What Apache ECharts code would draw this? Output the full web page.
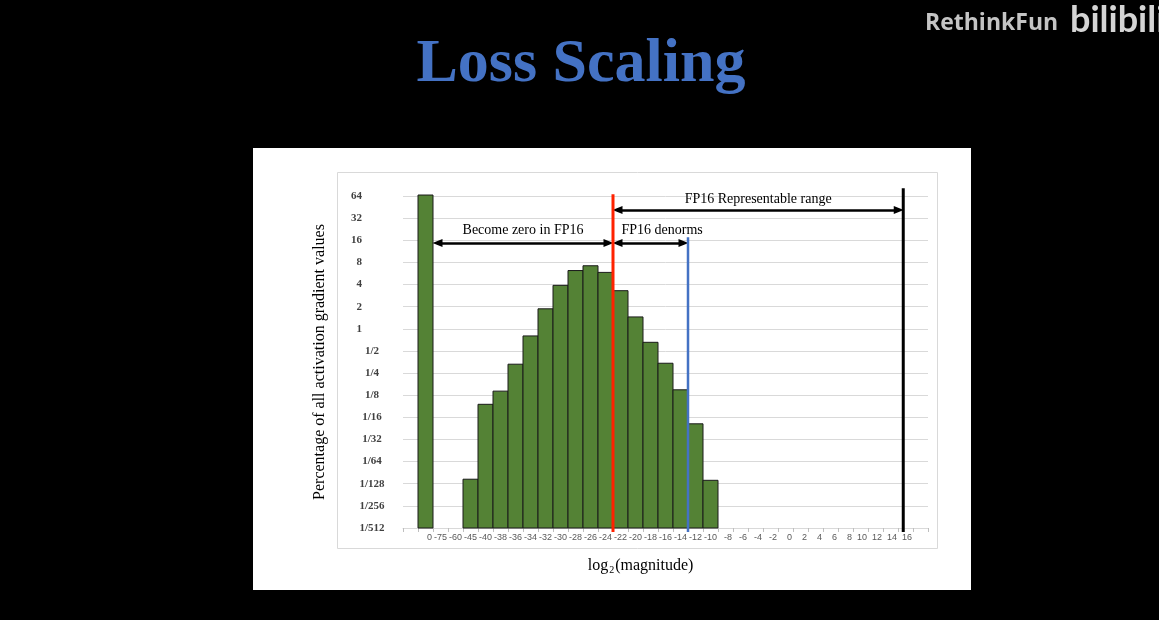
<!DOCTYPE html>
<html>
<head>
<meta charset="utf-8">
<title>Loss Scaling</title>
<script src="https://cdn.jsdelivr.net/npm/echarts@6/dist/echarts.min.js"></script>
<style>
  html, body { margin: 0; padding: 0; background: #000; }
  #chart { width: 1159px; height: 620px; }
</style>
</head>
<body>
<div id="chart"></div>
<script>
// x categories (log2 magnitude bins), empty slot at both ends of the axis
var categories = ['', '0', '-75', '-60', '-45', '-40', '-38', '-36', '-34', '-32', '-30',
  '-28', '-26', '-24', '-22', '-20', '-18', '-16', '-14', '-12', '-10', '-8', '-6', '-4',
  '-2', '0', '2', '4', '6', '8', '10', '12', '14', '16', ''];

// percentage of all activation gradient values per bin
var percentages = [null, 66, null, null, 0.009, 0.094, 0.142, 0.33, 0.80, 1.87, 3.9,
  6.2, 7.2, 5.85, 3.3, 1.45, 0.655, 0.34, 0.148, 0.051, 0.0087, null, null, null,
  null, null, null, null, null, null, null, null, null, null, null];

// y ticks: powers of two from 1/512 to 64
var yMin = 1 / 512;
var yMax = 64;

// vertical markers, in category-index units (boundary after a bin = index + 0.5)
var fp16Min = categories.indexOf('-24') + 0.5;     // smallest normal
var fp16Denorm = categories.indexOf('-14') + 0.5;  // end of denorms
var fp16Max = 32.85;                               // largest representable
var zeroBinEnd = 1.5;
var lineBottom = 0.00172;
var lineTops = [67.6, 17.6, 81.6];
var arrowLevels = [41.4, 14.7];
var tipInset = 0.3; // arrow heads are centred on their end point

var serif = "'Liberation Serif', 'DejaVu Serif', serif";

var chart = echarts.init(document.getElementById('chart'));

var barData = [];
percentages.forEach(function (v, i) {
  if (v != null) {
    barData.push([i, v]);
  }
});

function vLine(x, top, color, width) {
  return {
    type: 'line',
    xAxisIndex: 1,
    data: [[x, lineBottom], [x, top]],
    symbol: 'none',
    clip: false,
    silent: true,
    z: 5,
    lineStyle: { color: color, width: width }
  };
}

var arrowLabel = {
  show: true,
  color: '#000',
  fontFamily: serif,
  fontSize: 14
};

var series = [{
  // histogram bars drawn from the bottom of the log axis
  type: 'custom',
  data: barData,
  encode: { x: 0, y: 1 },
  silent: true,
  renderItem: function (params, api) {
    var idx = api.value(0);
    var top = api.coord([idx, api.value(1)]);
    var base = api.coord([idx, yMin]);
    var w = api.size([1, 1])[0];
    return {
      type: 'rect',
      shape: { x: top[0] - w / 2, y: top[1], width: w, height: base[1] - top[1] },
      style: { fill: '#548235', stroke: '#1a1a1a', lineWidth: 1 }
    };
  }
},
vLine(fp16Min, lineTops[0], '#ff2200', 3),
vLine(fp16Denorm, lineTops[1], '#4472c4', 2.5),
vLine(fp16Max, lineTops[2], '#000', 3)];

// arrows with their captions
series[3].markLine = {
  silent: true,
  symbol: ['triangle', 'triangle'],
  symbolSize: [8, 10],
  lineStyle: { color: '#000', width: 2.5, type: 'solid' },
  data: [
    [{ coord: [fp16Min + tipInset, arrowLevels[0]],
       label: Object.assign({ formatter: 'FP16 Representable range', position: 'insideMiddleTop', distance: 4 }, arrowLabel) },
     { coord: [fp16Max - tipInset, arrowLevels[0]] }],
    [{ coord: [zeroBinEnd + tipInset, arrowLevels[1]],
       label: Object.assign({ formatter: 'Become zero in FP16', position: 'insideMiddleTop', distance: 6 }, arrowLabel) },
     { coord: [fp16Min - tipInset, arrowLevels[1]] }],
    [{ coord: [fp16Min + tipInset, arrowLevels[1]],
       label: Object.assign({ formatter: 'FP16 denorms', position: 'insideStartTop', distance: [4, 6] }, arrowLabel) },
     { coord: [fp16Denorm - tipInset, arrowLevels[1]] }]
  ]
};

chart.setOption({
  backgroundColor: '#000',
  animation: false,
  graphic: [
    // white slide panel and the plot area border
    { type: 'rect', z: -10, silent: true, shape: { x: 253, y: 148, width: 718, height: 442 },
      style: { fill: '#fff' } },
    { type: 'rect', z: -9, silent: true, shape: { x: 337.5, y: 172.5, width: 600, height: 376 },
      style: { fill: 'none', stroke: '#d9d9d9', lineWidth: 1 } },
    { type: 'text', x: 581, y: 65, silent: true,
      style: { text: 'Loss Scaling', fill: '#4472c4', font: 'bold 62px ' + serif,
        textAlign: 'center', textVerticalAlign: 'middle',
        shadowColor: 'rgba(20,45,90,0.9)', shadowOffsetX: 2, shadowOffsetY: 2, shadowBlur: 2 } },
    // watermark
    { type: 'text', x: 925, y: 23, silent: true,
      style: { text: 'RethinkFun', fill: '#c4c4c4', font: 'bold 23px "Open Sans", sans-serif',
        textVerticalAlign: 'middle' } },
    { type: 'text', x: 1070, y: 20, silent: true,
      style: { text: 'bilibili', fill: '#d4d4d4', font: 'bold 36px Lato, sans-serif',
        textVerticalAlign: 'middle' } }
  ],
  grid: { left: 403, top: 196, width: 525, height: 332 },
  xAxis: [{
    type: 'category',
    data: categories,
    name: 'log{sub|2}(magnitude)',
    nameLocation: 'middle',
    nameGap: 29,
    nameTextStyle: {
      color: '#000', fontFamily: serif, fontSize: 16, padding: [0, 50, 0, 0],
      rich: { sub: { color: '#000', fontFamily: serif, fontSize: 10, padding: [8, 1, 0, 1] } }
    },
    axisLine: { lineStyle: { color: '#d9d9d9' } },
    axisTick: { show: true, interval: 0, length: 4, lineStyle: { color: '#bfbfbf' } },
    axisLabel: {
      interval: 0,
      margin: 5,
      formatter: function (v) { return v ? '{r|' + v + '}' : ''; },
      rich: {
        r: { width: 13, align: 'right', color: '#595959', fontSize: 9,
          fontFamily: "'Liberation Sans Narrow', 'Liberation Sans', sans-serif" }
      }
    },
    splitLine: { show: false }
  }, {
    type: 'value',
    min: -0.5,
    max: categories.length - 0.5,
    show: false
  }],
  yAxis: {
    type: 'log',
    logBase: 2,
    min: yMin,
    max: yMax,
    interval: 1,
    name: 'Percentage of all activation gradient values',
    nameLocation: 'middle',
    nameGap: 75,
    nameTextStyle: { color: '#000', fontFamily: serif, fontSize: 16 },
    axisLine: { show: false },
    axisTick: { show: false },
    splitLine: { lineStyle: { color: '#d9d9d9' } },
    axisLabel: {
      margin: 17,
      formatter: function (v) {
        if (v >= 1) {
          return '{i|' + Math.round(v) + '}{g| }';
        }
        return '{f|1/' + Math.round(1 / v) + '}';
      },
      rich: {
        i: { color: '#404040', fontWeight: 'bold', fontSize: 11, fontFamily: serif },
        g: { width: 24, fontSize: 11 },
        f: { width: 28, align: 'center', color: '#404040', fontWeight: 'bold', fontSize: 11, fontFamily: serif }
      }
    }
  },
  series: series
});
</script>
</body>
</html>
